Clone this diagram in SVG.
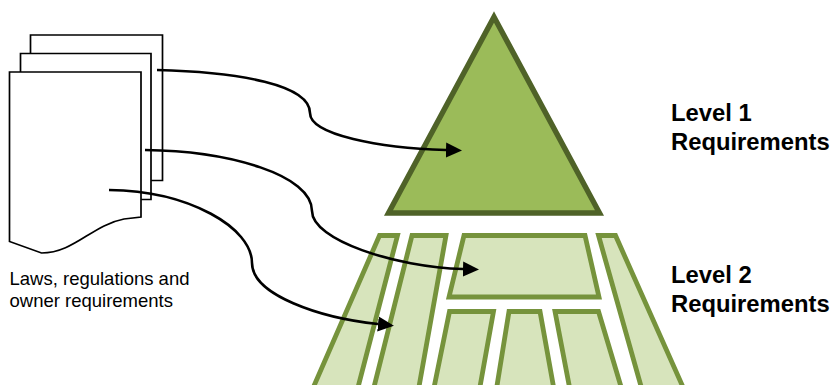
<svg xmlns="http://www.w3.org/2000/svg" width="830" height="385" viewBox="0 0 830 385">
<style>
.doc{fill:#fff;stroke:#000;stroke-width:1.7;stroke-linejoin:miter}
.l2{fill:#D7E4BC;stroke:#76933C;stroke-width:4.8;stroke-linejoin:miter}
.l1{fill:#9BBB59;stroke:#4F6228;stroke-width:5.4;stroke-linejoin:miter}
.conn{fill:none;stroke:#000;stroke-width:2.6;marker-end:url(#arrow)}
.big{font-family:"Liberation Sans",Arial,sans-serif;font-weight:700;font-size:23.8px;fill:#000}
.small{font-family:"Liberation Sans",Arial,sans-serif;font-size:18.5px;fill:#000}
</style>
<defs>
<marker id="arrow" markerUnits="userSpaceOnUse" markerWidth="16" markerHeight="16" refX="0" refY="8" orient="auto">
<path d="M0,0.5 L16,8 L0,15.5 Z" fill="#000"/>
</marker>
</defs>
<rect width="830" height="385" fill="#fff"/>
<g id="doc-stack">
<path class="doc" d="M30.5,72 V35 H162.5 V180.5 H151"/>
<path class="doc" d="M20.5,72 V53.5 H151 V199.5 H141"/>
<path class="doc" d="M9.5,72 H141 V217 L124,219 C92,225 74,253 41.5,253 L9.5,241.5 Z"/>
<text class="small" x="9.5" y="285">Laws, regulations and</text>
<text class="small" x="9.5" y="306.7">owner requirements</text>
</g>
<g id="level-1">
<path class="l1" d="M494,17 L599.5,213 H388.5 Z"/>
<text class="big" x="671" y="121">Level 1</text>
<text class="big" x="671" y="150">Requirements</text>
</g>
<g id="level-2">
<path class="l2" d="M379.5,235.5 H397.5 L356,395 H310 Z"/>
<path class="l2" d="M412,235.5 H446 L417.5,395 H372 Z"/>
<path class="l2" d="M464,235.5 H585 L599,297 H449 Z"/>
<path class="l2" d="M598.5,235.5 H615.5 L686.5,395 H643.5 Z"/>
<path class="l2" d="M449.5,311.5 H493.5 L478.5,395 H432.5 Z"/>
<path class="l2" d="M509,311.5 H540 L555,395 H495.5 Z"/>
<path class="l2" d="M555,311.5 H598.5 L623.5,395 H571 Z"/>
<text class="big" x="671" y="283">Level 2</text>
<text class="big" x="671" y="312">Requirements</text>
</g>
<g id="connectors">
<path class="conn" d="M157,70 C240,72 310,85 310,113 C310,135 380,148 446,150"/>
<path class="conn" d="M145,150 C230,151 312,175 312,211 C312,240 395,267 463,269"/>
<path class="conn" d="M109,190 C190,191 252,228 252,263 C252,295 320,318 378,324"/>
</g>
</svg>
